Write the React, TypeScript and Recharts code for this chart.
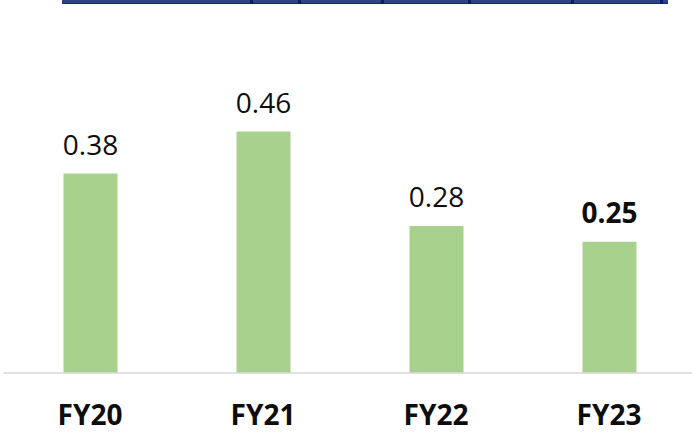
import { BarChart, Bar, XAxis, YAxis, LabelList } from "recharts";

const years = ["FY20", "FY21", "FY22", "FY23"];
const ratios = [0.38, 0.46, 0.28, 0.25];
const boldYears = ["FY23"];

const data = years.map((year, i) => ({ year, ratio: ratios[i] }));

const FONT = "'Open Sans', 'Liberation Sans', sans-serif";

// bits of the cut-off title underline at the very top
const underlineMarks = [251, 299, 382, 469, 572, 661];

function ValueLabel(props: any) {
  const { x, y, width, value, index } = props;
  const bold = boldYears.includes(years[index]);
  return (
    <text
      x={x + width / 2}
      y={y - 19}
      textAnchor="middle"
      fontFamily={FONT}
      fontSize={28}
      fontWeight={bold ? 700 : 400}
      fill="#0d0d0d"
    >
      {value.toFixed(2)}
    </text>
  );
}

export default function App() {
  return (
    <div
      style={{
        position: "absolute",
        left: 0,
        top: 0,
        width: 692,
        height: 432,
        overflow: "hidden",
        background: "#fff",
      }}
    >
      <BarChart
        width={700}
        height={432}
        data={data}
        margin={{ top: 5.5, right: 4.5, left: 3.5, bottom: 0 }}
      >
        <XAxis
          dataKey="year"
          height={59}
          tickLine={false}
          tickSize={0}
          tickMargin={32}
          axisLine={{ stroke: "#d9d9d9", strokeWidth: 1.5 }}
          tick={{
            fill: "#0d0d0d",
            fontSize: 28,
            fontWeight: 700,
            fontFamily: FONT,
          }}
          interval={0}
        />
        <YAxis hide domain={[0, 0.7]} />
        <Bar dataKey="ratio" fill="#a9d18e" barSize={54} isAnimationActive={false}>
          <LabelList dataKey="ratio" content={<ValueLabel />} />
        </Bar>
      </BarChart>
      <div
        style={{
          position: "absolute",
          zIndex: 2,
          left: 62,
          top: 0,
          width: 606,
          height: 3,
          background: "#2d4683",
          borderBottom: "1px solid #14296a",
        }}
      />
      {underlineMarks.map((m) => (
        <div
          key={m}
          style={{
            position: "absolute",
            zIndex: 3,
            left: m - 1,
            top: 0,
            width: 3,
            height: 4,
            background: "#0a1f5c",
          }}
        />
      ))}
    </div>
  );
}
